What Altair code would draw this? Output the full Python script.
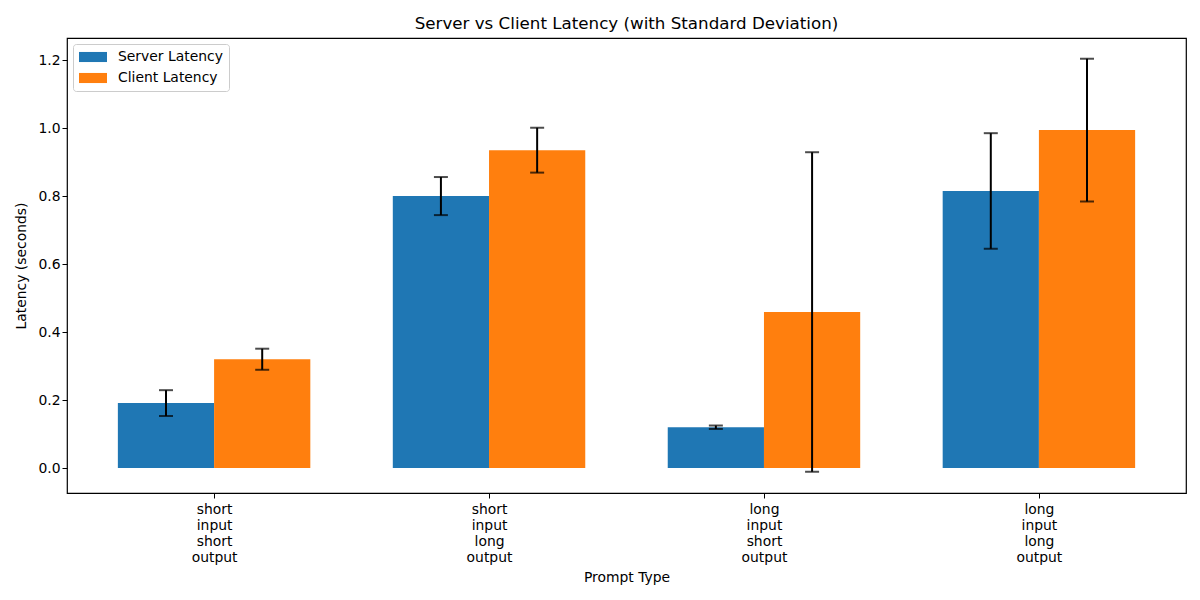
import altair as alt
import pandas as pd

categories = ["short input short output", "short input long output",
              "long input short output", "long input long output"]
series = ["Server Latency", "Client Latency"]
server_mean = [0.191, 0.800, 0.120, 0.815]
server_std = [0.038, 0.056, 0.005, 0.170]
client_mean = [0.320, 0.935, 0.459, 0.994]
client_std = [0.031, 0.066, 0.470, 0.210]
y_ticks = [0.0, 0.2, 0.4, 0.6, 0.8, 1.0, 1.2]

bar_w = 0.35
rows = []
for i, cat in enumerate(categories):
    for s, means, stds, off in [(series[0], server_mean, server_std, -bar_w / 2),
                                (series[1], client_mean, client_std, bar_w / 2)]:
        c = i + off
        rows.append(dict(cat=cat, series=s, x0=c - bar_w / 2, x1=c + bar_w / 2, xc=c,
                         mean=means[i], lo=means[i] - stds[i], hi=means[i] + stds[i]))
df = pd.DataFrame(rows)

font = "DejaVu Sans"
fs = 13.9
names = "[" + ",".join("'" + c + "'" for c in categories) + "]"

xscale = alt.Scale(domain=[-0.535, 3.535], nice=False, zero=False)
yscale = alt.Scale(domain=[-0.0735, 1.265], nice=False, zero=False)

bars = alt.Chart(df).mark_rect().encode(
    x=alt.X("x0:Q", scale=xscale, title="Prompt Type",
            axis=alt.Axis(values=[0, 1, 2, 3], grid=False, domain=False,
                          labelExpr="split(" + names + "[datum.value], ' ')",
                          labelFont=font, labelFontSize=fs, labelColor="black",
                          labelLineHeight=16, labelPadding=4,
                          tickColor="black", tickSize=5, titleFont=font, titleFontSize=fs,
                          titleFontWeight="normal", titleColor="black", titlePadding=7)),
    x2="x1:Q",
    y=alt.Y("mean:Q", scale=yscale, title="Latency (seconds)",
            axis=alt.Axis(values=y_ticks, format=".1f", grid=False, domain=False,
                          labelFont=font, labelFontSize=fs, labelColor="black",
                          tickColor="black", tickSize=5, titleFont=font, titleFontSize=fs,
                          titleFontWeight="normal", titleColor="black", titlePadding=9)),
    y2=alt.datum(0),
    color=alt.Color("series:N", sort=series,
                    scale=alt.Scale(domain=series, range=["#1f77b4", "#ff7f0e"]),
                    legend=alt.Legend(title=None, orient="none", legendX=6, legendY=6,
                                      symbolType="M-2,-0.72H2V0.72H-2Z", symbolSize=196,
                                      symbolStrokeWidth=0, labelFont=font, labelFontSize=fs,
                                      labelColor="black", strokeColor="#cccccc",
                                      fillColor="white", padding=6, cornerRadius=3,
                                      rowPadding=7, labelOffset=18, symbolOffset=7)),
)

err = alt.Chart(df).mark_rule(color="black", strokeWidth=2).encode(
    x=alt.X("xc:Q", scale=xscale), y=alt.Y("lo:Q", scale=yscale), y2="hi:Q")
cap_lo = alt.Chart(df).mark_tick(orient="horizontal", size=14, thickness=2, color="black").encode(
    x=alt.X("xc:Q", scale=xscale), y=alt.Y("lo:Q", scale=yscale))
cap_hi = alt.Chart(df).mark_tick(orient="horizontal", size=14, thickness=2, color="black").encode(
    x=alt.X("xc:Q", scale=xscale), y=alt.Y("hi:Q", scale=yscale))

chart = alt.layer(bars, err, cap_lo, cap_hi).properties(
    width=1119, height=455,
    title=alt.TitleParams("Server vs Client Latency (with Standard Deviation)",
                          font=font, fontSize=16.7, fontWeight="normal", color="black", offset=5),
    autosize=alt.AutoSizeParams(type="none"),
    padding={"left": 67, "top": 38, "right": 14, "bottom": 107},
).configure(background="white", view=alt.ViewConfig(stroke="black", strokeWidth=1.2))

chart.save("out.html", embed_options={"renderer": "svg", "actions": False})
